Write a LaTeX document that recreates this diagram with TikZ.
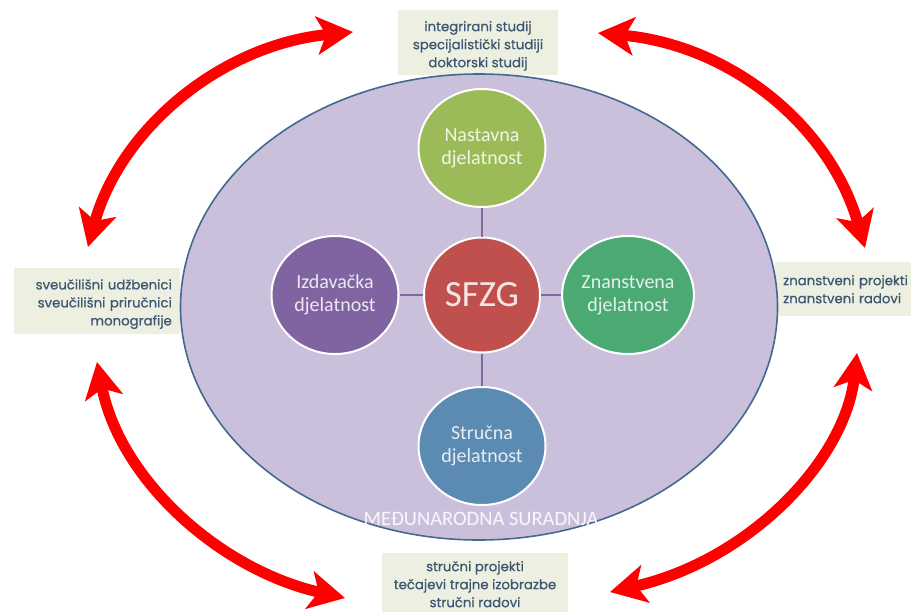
\documentclass[tikz,border=0pt]{standalone}
\usepackage{fontspec}
\setmainfont{Carlito}
\newfontfamily\boxfont[FakeBold=0.6]{Poppins}
\usetikzlibrary{shapes.geometric,arrows.meta}
\definecolor{ellfill}{RGB}{203,192,220}
\definecolor{ellline}{RGB}{68,105,143}
\definecolor{boxfill}{RGB}{237,239,224}
\definecolor{boxtext}{RGB}{60,86,115}
\definecolor{cgreen}{RGB}{155,187,89}
\definecolor{cpurple}{RGB}{128,100,162}
\definecolor{cred}{RGB}{192,80,77}
\definecolor{cteal}{RGB}{75,170,115}
\definecolor{cblue}{RGB}{91,138,179}
\definecolor{conn}{RGB}{123,106,155}
\definecolor{arrred}{RGB}{255,0,0}
\tikzset{
  infobox/.style={fill=boxfill, draw=none, font=\boxfont\fontsize{13.3}{18}\selectfont, text=boxtext, inner xsep=8pt, inner ysep=4pt},
  actcircle/.style={ellipse, draw=white, line width=2pt, minimum width=127pt, minimum height=118pt, inner sep=0pt, align=center, font=\fontsize{20}{23}\selectfont},
  link/.style={draw=conn, line width=2.2pt},
  bigarrow/.style={draw=arrred, line width=11pt, {Stealth[length=36pt,width=38pt,inset=9pt]}-{Stealth[length=36pt,width=38pt,inset=9pt]}}
}
\begin{document}
\begin{tikzpicture}[x=1pt,y=-1pt]
\useasboundingbox (0,0) rectangle (911,611);
\fill[white] (0,0) rectangle (911,611);
% boxes
\node[infobox, align=center, minimum width=160pt, minimum height=64pt, anchor=north] (topbox) at (478,10) {\rule{0pt}{17pt}integrirani studij\\specijalistički studiji\\doktorski studij};
\node[infobox, align=right, text width=150pt, minimum height=66pt, anchor=north east] (leftbox) at (180,268) {\rule{0pt}{16pt}sveučilišni udžbenici\\sveučilišni priručnici\\monografije};
\node[infobox, align=left, text width=150pt, minimum height=54pt, anchor=north west] (rightbox) at (775,262) {\mbox{znanstveni projekti}\\znanstveni radovi};
\node[infobox, align=center, minimum width=186pt, minimum height=62pt, anchor=north] (botbox) at (475,553) {stručni projekti\\tečajevi trajne izobrazbe\\stručni radovi};
% big ellipse
\node[ellipse, fill=ellfill, draw=ellline, line width=1.6pt, minimum width=597pt, minimum height=466pt] (outer) at (479,307) {};
\node[text=white!88!ellfill, font=\fontsize{20.5}{24}\selectfont] (medj) at (481,519) {MEĐUNARODNA SURADNJA};
% circles
\node[actcircle, fill=cred, minimum width=116pt, minimum height=115pt, font=\fontsize{37}{40}\selectfont, text=white!85!cred] (sfzg) at (482,295) {SFZG};
\node[actcircle, fill=cgreen, text=white!85!cgreen] (nast) at (482,148) {Nastavna\\djelatnost};
\node[actcircle, fill=cpurple, text=white!85!cpurple] (izd) at (335,295) {Izdavačka\\djelatnost};
\node[actcircle, fill=cteal, text=white!85!cteal] (znan) at (628,295) {Znanstvena\\djelatnost};
\node[actcircle, fill=cblue, text=white!85!cblue] (struc) at (482,446) {Stručna\\djelatnost};
\draw[link] (sfzg) -- (nast);
\draw[link] (sfzg) -- (izd);
\draw[link] (sfzg) -- (znan);
\draw[link] (sfzg) -- (struc);
% arrows
\coordinate (a1s) at (88,247);
\coordinate (a1e) at (353,32);
\coordinate (a2s) at (598,33);
\coordinate (a2e) at (865,248);
\coordinate (a3s) at (97,362);
\coordinate (a3e) at (345,598);
\coordinate (a4s) at (610,592);
\coordinate (a4e) at (857,353);
\draw[bigarrow] (a1s) .. controls (120,130) and (220,45) .. (a1e);
\draw[bigarrow] (a2s) .. controls (730,45) and (830,125) .. (a2e);
\draw[bigarrow] (a3s) .. controls (120,480) and (220,570) .. (a3e);
\draw[bigarrow] (a4s) .. controls (750,560) and (845,460) .. (a4e);
\end{tikzpicture}
\end{document}
